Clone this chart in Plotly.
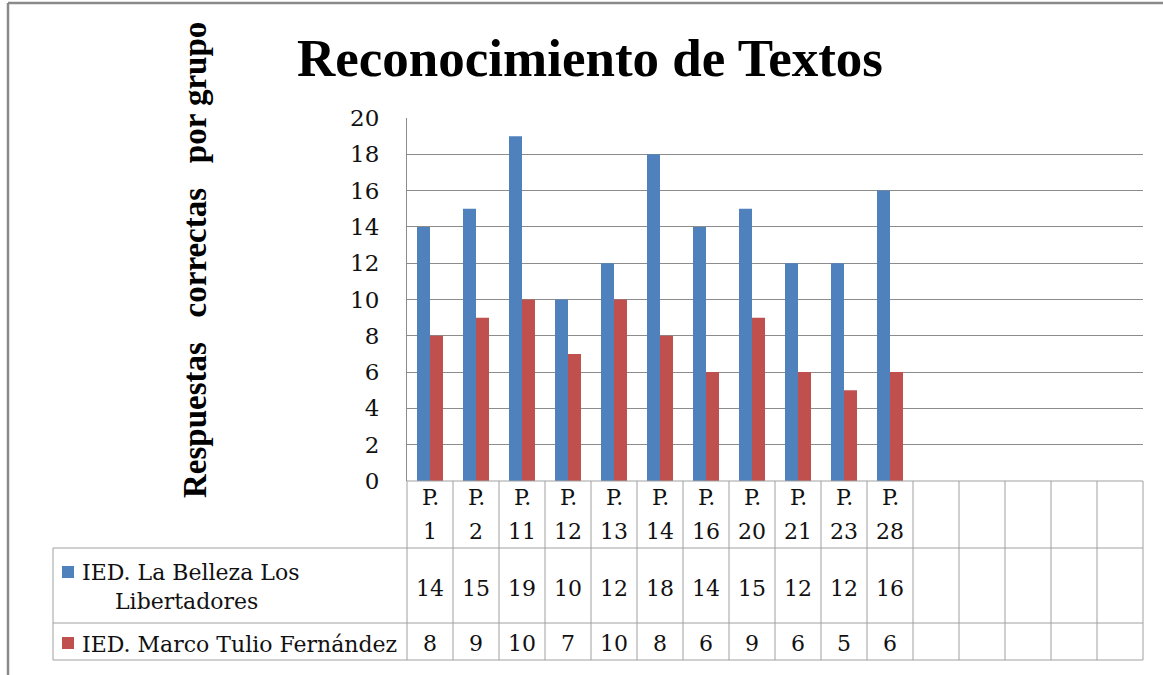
import plotly.graph_objects as go

# Question labels and correct answers per school
categories = ["P. 1", "P. 2", "P. 11", "P. 12", "P. 13", "P. 14", "P. 16",
              "P. 20", "P. 21", "P. 23", "P. 28"]
series_names = ["IED. La Belleza Los Libertadores", "IED. Marco Tulio Fernández"]
belleza = [14, 15, 19, 10, 12, 18, 14, 15, 12, 12, 16]
marco_tulio = [8, 9, 10, 7, 10, 8, 6, 9, 6, 5, 6]
y_ticks = [0, 2, 4, 6, 8, 10, 12, 14, 16, 18, 20]
n_columns = 16  # table columns, including the empty trailing ones

W, H = 1163, 675
L, R, T, B = 407, 20, 118, 194
PW, PH = W - L - R, H - T - B

BLUE = "#4F81BD"
RED = "#C0504D"
GRID = "#8C8C8C"
TABLE = "#A0A0A0"
SERIF = "DejaVu Serif"
BOLD_SERIF = "Liberation Serif"


def px(x):
    return (x - L) / PW


def py(y):
    return (H - B - y) / PH


xs = list(range(len(categories)))

fig = go.Figure()
fig.add_bar(x=xs, y=belleza, name=series_names[0], marker_color=BLUE,
            marker_line_width=0, showlegend=False)
fig.add_bar(x=xs, y=marco_tulio, name=series_names[1], marker_color=RED,
            marker_line_width=0, showlegend=False)

shapes = []
ann = []


def hline(y0, x0, x1, color=TABLE, width=1):
    shapes.append(dict(type="line", xref="paper", yref="paper",
                       x0=px(x0), x1=px(x1), y0=py(y0), y1=py(y0),
                       line=dict(color=color, width=width)))


def vline(x0, y0, y1, color=TABLE, width=1):
    shapes.append(dict(type="line", xref="paper", yref="paper",
                       x0=px(x0), x1=px(x0), y0=py(y0), y1=py(y1),
                       line=dict(color=color, width=width)))


# Data table grid below the plot
row_top, row1, row2, row_bot = 481, 548, 623, 660
hline(row_top, L, L + PW)
for y in (row1, row2, row_bot):
    hline(y, 53, L + PW)
vline(53, row1, row_bot)
for i in range(n_columns + 1):
    vline(L + PW * i / n_columns, row_top, row_bot)

# Category labels and values inside the table
for i, cat in enumerate(categories):
    head, num = cat.split(" ")
    for text, yc in ((head, 498), (num, 531)):
        ann.append(dict(x=i, xref="x", y=py(yc), yref="paper", text=text,
                        showarrow=False, xanchor="center", yanchor="middle",
                        font=dict(family=SERIF, size=22, color="#111")))
    ann.append(dict(x=i, xref="x", y=py(588), yref="paper", text=str(belleza[i]),
                    showarrow=False, xanchor="center", yanchor="middle",
                    font=dict(family=SERIF, size=22, color="#111")))
    ann.append(dict(x=i, xref="x", y=py(643), yref="paper", text=str(marco_tulio[i]),
                    showarrow=False, xanchor="center", yanchor="middle",
                    font=dict(family=SERIF, size=22, color="#111")))

# Legend keys and series names in the table's first column
for color, y0 in ((BLUE, 566), (RED, 637)):
    shapes.append(dict(type="rect", xref="paper", yref="paper",
                       x0=px(62), x1=px(74), y0=py(y0), y1=py(y0 + 12),
                       fillcolor=color, line=dict(width=0)))
first_words = series_names[0].split(" ")
for text, x0, yc in ((" ".join(first_words[:4]), 80, 572),
                     (" ".join(first_words[4:]), 113, 601),
                     (series_names[1], 80, 644)):
    ann.append(dict(x=px(x0), xref="paper", y=py(yc), yref="paper", text=text,
                    showarrow=False, xanchor="left", yanchor="middle",
                    font=dict(family=SERIF, size=22, color="#111")))

# Vertical axis title
ann.append(dict(x=px(195), xref="paper", y=py(260), yref="paper",
                text="Respuestas&nbsp;&nbsp; correctas&nbsp;&nbsp; por grupo",
                textangle=-90, showarrow=False, xanchor="center", yanchor="middle",
                font=dict(family=BOLD_SERIF, size=33, color="#000", weight="bold")))

# Outer frame (top and left edges)
shapes.append(dict(type="line", xref="paper", yref="paper",
                   x0=px(8), x1=px(W + 5), y0=py(3), y1=py(3),
                   line=dict(color="#8A8A8A", width=2.5)))
shapes.append(dict(type="line", xref="paper", yref="paper",
                   x0=px(8), x1=px(8), y0=py(3), y1=py(H + 5),
                   line=dict(color="#8A8A8A", width=2.5)))

fig.update_layout(
    width=W, height=H,
    margin=dict(l=L, r=R, t=T, b=B),
    paper_bgcolor="white", plot_bgcolor="white",
    barmode="group", bargap=0.435, bargroupgap=0,
    title=dict(text="Reconocimiento de Textos", x=590 / W, xanchor="center",
               y=1 - 57 / H, yanchor="middle", yref="container",
               font=dict(family=BOLD_SERIF, size=53, color="#000", weight="bold")),
    xaxis=dict(range=[-0.5, n_columns - 0.5], showticklabels=False,
               showgrid=False, zeroline=False, showline=False, fixedrange=True),
    yaxis=dict(range=[0, 20], tickvals=y_ticks, showgrid=True, gridcolor=GRID,
               gridwidth=1, zeroline=False, showline=True, linecolor=GRID,
               linewidth=1, ticks="", ticklabelstandoff=22,
               tickfont=dict(family=SERIF, size=23, color="#111")),
    shapes=shapes,
    annotations=ann,
)

fig.write_html("out.html")
